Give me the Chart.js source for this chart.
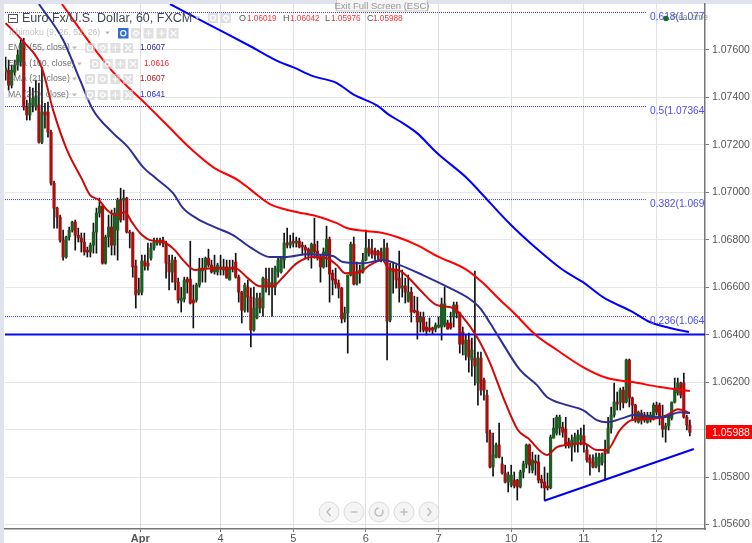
<!DOCTYPE html>
<html><head><meta charset="utf-8">
<style>html,body{margin:0;padding:0;background:#fff}canvas{display:block}</style>
<script src="https://cdn.jsdelivr.net/npm/chart.js@4"></script>
</head><body><canvas id="c" width="752" height="543"></canvas>
<script>
const opens=[1.07506,1.07514,1.07451,1.07506,1.07536,1.07548,1.07632,1.07359,1.07325,1.07367,
1.07359,1.07367,1.07211,1.07338,1.07338,1.07253,1.07038,1.06933,1.06895,1.06798,
1.06727,1.06811,1.06840,1.06874,1.06819,1.06807,1.06790,1.06756,1.06748,1.06777,
1.06832,1.06912,1.06941,1.06701,1.06811,1.06853,1.06777,1.06840,1.06967,1.06967,
1.06975,1.06832,1.06828,1.06689,1.06575,1.06579,1.06710,1.06701,1.06722,1.06765,
1.06786,1.06798,1.06798,1.06786,1.06701,1.06664,1.06714,1.06621,1.06541,1.06550,
1.06634,1.06634,1.06546,1.06546,1.06609,1.06668,1.06680,1.06722,1.06693,1.06664,
1.06664,1.06685,1.06672,1.06685,1.06630,1.06685,1.06706,1.06642,1.06579,1.06503,
1.06600,1.06558,1.06419,1.06470,1.06554,1.06512,1.06634,1.06600,1.06617,1.06600,
1.06664,1.06664,1.06714,1.06786,1.06777,1.06794,1.06786,1.06794,1.06777,1.06769,
1.06760,1.06735,1.06781,1.06752,1.06727,1.06685,1.06735,1.06802,1.06659,1.06634,
1.06617,1.06596,1.06466,1.06491,1.06651,1.06781,1.06613,1.06672,1.06664,1.06714,
1.06765,1.06756,1.06752,1.06752,1.06748,1.06714,1.06765,1.06461,1.06672,1.06672,
1.06638,1.06596,1.06605,1.06541,1.06579,1.06503,1.06499,1.06453,1.06474,1.06432,
1.06428,1.06428,1.06423,1.06432,1.06432,1.06440,1.06449,1.06449,1.06474,1.06525,
1.06491,1.06411,1.06314,1.06377,1.06293,1.06301,1.06196,1.06301,1.06209,1.06145,
1.05985,1.05842,1.05884,1.05935,1.05855,1.05817,1.05779,1.05766,1.05787,1.05787,
1.05758,1.05821,1.05855,1.05935,1.05829,1.05867,1.05863,1.05791,1.05779,1.05762,
1.05754,1.05964,1.05985,1.06006,1.06010,1.06002,1.05947,1.05926,1.05935,1.05939,
1.05956,1.05973,1.05914,1.05880,1.05863,1.05842,1.05850,1.05859,1.05914,1.05901,
1.06006,1.06061,1.06116,1.06116,1.06166,1.06116,1.06293,1.06133,1.06103,1.06031,
1.06069,1.06061,1.06031,1.06040,1.06048,1.06103,1.06103,1.06052,1.06002,1.06015,
1.06048,1.06116,1.06154,1.06196,1.06196,1.06052,1.06019];
const closes=[1.07523,1.07451,1.07514,1.07536,1.07578,1.07628,1.07359,1.07325,1.07375,1.07396,
1.07401,1.07211,1.07338,1.07325,1.07253,1.07038,1.06933,1.06895,1.06798,1.06727,
1.06811,1.06840,1.06874,1.06819,1.06807,1.06790,1.06748,1.06748,1.06777,1.06832,
1.06912,1.06941,1.06701,1.06811,1.06853,1.06777,1.06912,1.06967,1.06883,1.06975,
1.06832,1.06828,1.06685,1.06567,1.06588,1.06710,1.06689,1.06689,1.06765,1.06790,
1.06798,1.06786,1.06786,1.06701,1.06664,1.06714,1.06621,1.06546,1.06554,1.06630,
1.06621,1.06533,1.06533,1.06609,1.06680,1.06680,1.06722,1.06693,1.06664,1.06685,
1.06693,1.06676,1.06685,1.06638,1.06680,1.06676,1.06642,1.06579,1.06503,1.06609,
1.06558,1.06419,1.06512,1.06554,1.06512,1.06638,1.06600,1.06621,1.06600,1.06680,
1.06714,1.06722,1.06786,1.06777,1.06790,1.06786,1.06794,1.06769,1.06769,1.06756,
1.06735,1.06781,1.06748,1.06722,1.06685,1.06748,1.06802,1.06655,1.06630,1.06613,
1.06596,1.06466,1.06491,1.06651,1.06781,1.06613,1.06664,1.06659,1.06714,1.06765,
1.06743,1.06739,1.06735,1.06735,1.06714,1.06765,1.06457,1.06672,1.06664,1.06630,
1.06596,1.06605,1.06579,1.06579,1.06495,1.06495,1.06453,1.06474,1.06419,1.06415,
1.06419,1.06419,1.06440,1.06440,1.06529,1.06529,1.06423,1.06428,1.06525,1.06491,
1.06360,1.06360,1.06377,1.06305,1.06335,1.06267,1.06301,1.06166,1.06166,1.05985,
1.05842,1.05893,1.05935,1.05884,1.05817,1.05779,1.05808,1.05808,1.05762,1.05758,
1.05821,1.05855,1.05935,1.05850,1.05872,1.05859,1.05787,1.05775,1.05754,1.05754,
1.05968,1.06006,1.06052,1.06052,1.05989,1.05935,1.05935,1.05956,1.05968,1.05977,
1.05977,1.05935,1.05872,1.05859,1.05842,1.05884,1.05884,1.05897,1.05897,1.06006,
1.06061,1.06116,1.06107,1.06166,1.06112,1.06293,1.06133,1.06103,1.06040,1.06073,
1.06040,1.06040,1.06061,1.06061,1.06103,1.06073,1.06052,1.06002,1.06015,1.06057,
1.06116,1.06175,1.06196,1.06145,1.06052,1.06019,1.05988];
const highs=[1.07569,1.07557,1.07536,1.07557,1.07599,1.07641,1.07649,1.07388,1.07443,1.07439,
1.07472,1.07460,1.07527,1.07375,1.07380,1.07262,1.07047,1.06937,1.06904,1.06840,
1.06815,1.06853,1.06878,1.06883,1.06849,1.06828,1.06828,1.06769,1.06786,1.06870,
1.06933,1.06975,1.06946,1.06819,1.06904,1.06925,1.06933,1.06975,1.07017,1.07009,
1.06979,1.06840,1.06832,1.06714,1.06638,1.06735,1.06735,1.06786,1.06786,1.06807,
1.06807,1.06807,1.06811,1.06794,1.06735,1.06735,1.06727,1.06638,1.06600,1.06642,
1.06642,1.06794,1.06609,1.06617,1.06722,1.06722,1.06727,1.06760,1.06714,1.06735,
1.06701,1.06735,1.06718,1.06714,1.06714,1.06714,1.06743,1.06651,1.06583,1.06617,
1.06630,1.06596,1.06600,1.06575,1.06575,1.06642,1.06680,1.06680,1.06680,1.06689,
1.06722,1.06727,1.06828,1.06849,1.06819,1.06828,1.06811,1.06807,1.06790,1.06777,
1.06765,1.06786,1.06891,1.06794,1.06735,1.06765,1.06857,1.06811,1.06672,1.06680,
1.06630,1.06600,1.06516,1.06651,1.06790,1.06811,1.06706,1.06693,1.06743,1.06840,
1.06802,1.06802,1.06765,1.06756,1.06765,1.06802,1.06786,1.06701,1.06706,1.06693,
1.06752,1.06672,1.06638,1.06651,1.06600,1.06562,1.06558,1.06495,1.06495,1.06453,
1.06470,1.06432,1.06449,1.06474,1.06554,1.06600,1.06461,1.06495,1.06537,1.06537,
1.06495,1.06432,1.06398,1.06406,1.06385,1.06668,1.06326,1.06326,1.06217,1.06166,
1.05998,1.05985,1.05943,1.06027,1.05884,1.05850,1.05821,1.05850,1.05821,1.05791,
1.05829,1.05867,1.05939,1.05939,1.05905,1.05893,1.05893,1.05808,1.05842,1.05817,
1.05977,1.06048,1.06061,1.06061,1.06031,1.06052,1.05964,1.05977,1.05985,1.05998,
1.06006,1.06019,1.05935,1.05893,1.05893,1.05901,1.05901,1.05901,1.05956,1.06052,
1.06095,1.06196,1.06158,1.06175,1.06179,1.06297,1.06297,1.06137,1.06107,1.06078,
1.06082,1.06073,1.06073,1.06073,1.06112,1.06116,1.06112,1.06103,1.06027,1.06061,
1.06116,1.06217,1.06217,1.06200,1.06238,1.06061,1.06040];
const lows=[1.07472,1.07430,1.07439,1.07493,1.07514,1.07531,1.07346,1.07304,1.07304,1.07338,
1.07346,1.07207,1.07205,1.07270,1.07232,1.07030,1.06849,1.06849,1.06790,1.06714,
1.06722,1.06798,1.06832,1.06756,1.06790,1.06748,1.06735,1.06727,1.06727,1.06743,
1.06743,1.06895,1.06697,1.06697,1.06769,1.06735,1.06735,1.06714,1.06874,1.06883,
1.06828,1.06765,1.06642,1.06512,1.06567,1.06567,1.06672,1.06672,1.06714,1.06756,
1.06777,1.06777,1.06769,1.06638,1.06588,1.06621,1.06588,1.06533,1.06495,1.06537,
1.06575,1.06529,1.06428,1.06537,1.06600,1.06621,1.06621,1.06685,1.06659,1.06655,
1.06651,1.06651,1.06651,1.06638,1.06630,1.06664,1.06638,1.06537,1.06449,1.06495,
1.06495,1.06348,1.06415,1.06466,1.06491,1.06478,1.06579,1.06567,1.06478,1.06567,
1.06642,1.06659,1.06680,1.06765,1.06765,1.06769,1.06769,1.06765,1.06735,1.06722,
1.06714,1.06680,1.06722,1.06714,1.06621,1.06680,1.06685,1.06537,1.06567,1.06596,
1.06554,1.06449,1.06453,1.06322,1.06647,1.06609,1.06609,1.06617,1.06659,1.06710,
1.06731,1.06722,1.06714,1.06714,1.06706,1.06706,1.06293,1.06453,1.06575,1.06596,
1.06537,1.06558,1.06533,1.06537,1.06453,1.06491,1.06381,1.06411,1.06411,1.06398,
1.06411,1.06402,1.06411,1.06428,1.06377,1.06432,1.06423,1.06423,1.06432,1.06470,
1.06322,1.06314,1.06293,1.06242,1.06225,1.06187,1.06103,1.06145,1.06124,1.05947,
1.05838,1.05804,1.05880,1.05880,1.05812,1.05775,1.05737,1.05758,1.05754,1.05703,
1.05754,1.05796,1.05838,1.05817,1.05817,1.05808,1.05775,1.05754,1.05703,1.05745,
1.05750,1.05964,1.05977,1.05977,1.05968,1.05922,1.05922,1.05867,1.05905,1.05905,
1.05935,1.05905,1.05863,1.05808,1.05838,1.05838,1.05821,1.05850,1.05787,1.05901,
1.05985,1.06052,1.06082,1.06082,1.06091,1.06112,1.06095,1.06040,1.06031,1.06027,
1.06023,1.06031,1.06027,1.06031,1.06040,1.06061,1.06019,1.05968,1.05947,1.05998,
1.06040,1.06112,1.06145,1.06133,1.06048,1.05998,1.05973];

const ma21X=[0,5.4,12,15.7,20.3,25.2,27.9,30.8,33.5,36.1,39.4,41.7,44.4,47.7,52,55.9,58.6,62.5,68.5,75.8,80,84,88.3,91.6,96.2,101.5,106.1,109.4,112.1,117,120.3,124.6,126.3,129.6,132.9,136.9,142.5,147.8,151,155.7,160,164.3,169.2,172.5,178.8,182.1,185.4,190.7,195.3,198.6,202.9,206.9,212.8,218.4,222.1,226];
const ma21Y=[1.07712,1.07641,1.07523,1.07346,1.07177,1.07055,1.06988,1.06967,1.06925,1.06904,1.06916,1.06874,1.06828,1.06798,1.06790,1.06756,1.06714,1.06672,1.06680,1.06680,1.06638,1.06604,1.06604,1.06642,1.06701,1.06727,1.06722,1.06693,1.06659,1.06664,1.06693,1.06714,1.06680,1.06672,1.06642,1.06588,1.06524,1.06512,1.06474,1.06390,1.06280,1.06137,1.05998,1.05964,1.05893,1.05926,1.05935,1.05943,1.05914,1.05914,1.05998,1.06040,1.06044,1.06061,1.06086,1.06069];
const ema55X=[11,19,24.6,28.9,35.5,40.4,45.4,50,55.3,58.6,63.5,69.8,75.1,80.7,87.3,92.9,99.5,108.1,111.4,118,124.6,130.2,137.8,146.8,152.4,156.7,160,163.3,169.9,175.5,178.8,185.4,190.7,195.3,198.6,203.9,207.2,217.1,222.7,226];
const ema55Y=[1.07793,1.07641,1.07472,1.07346,1.07249,1.07190,1.07106,1.07055,1.06996,1.06933,1.06887,1.06849,1.06819,1.06769,1.06727,1.06727,1.06739,1.06731,1.06706,1.06701,1.06714,1.06693,1.06651,1.06596,1.06558,1.06512,1.06449,1.06381,1.06251,1.06187,1.06137,1.06103,1.06082,1.06040,1.06031,1.06048,1.06061,1.06052,1.06073,1.06069];
const ema100X=[18.6,28.9,35.5,46.7,53.3,60.9,68.5,76.7,80.7,87.3,94.9,102.8,109.4,112.7,119.4,124.6,129.3,135.9,142.5,152.4,157.7,163.3,167.6,174.8,182.1,190.7,198.6,207.2,216.1,226];
const ema100Y=[1.07793,1.07611,1.07506,1.07367,1.07283,1.07186,1.07106,1.07051,1.07013,1.06950,1.06920,1.06899,1.06870,1.06849,1.06836,1.06828,1.06811,1.06777,1.06731,1.06672,1.06617,1.06546,1.06495,1.06402,1.06335,1.06263,1.06217,1.06200,1.06179,1.06162];
const ma200X=[54.3,67.5,80.7,90.6,94.9,101.5,109.4,114.7,123,126.3,131.2,135.9,142.5,152.4,156.7,166.6,174.8,184.1,190.7,197.3,207.2,212.8,219.4,225.7];
const ma200Y=[1.07793,1.07704,1.07616,1.07548,1.07527,1.07489,1.07460,1.07413,1.07363,1.07329,1.07291,1.07249,1.07165,1.07059,1.07001,1.06866,1.06769,1.06672,1.06621,1.06558,1.06495,1.06453,1.06428,1.06411];
const trendX=[177.9,227.3];
const trendY=[1.05700,1.05918];
const supportLevel=1.0640;
const fibLevels=[1.07757,1.07361,1.06969,1.06476];
const fibLabels=["0.618(1.077","0.5(1.07364","0.382(1.069","0.236(1.064"];
const fibEnd=211.5;
const dayTicks=[44.5,71,95,119,143,167,191,215];
const dayLabels=["Apr","4","5","6","7","10","11","12"];
const priceTicks=[1.056,1.058,1.060,1.062,1.064,1.066,1.068,1.070,1.072,1.074,1.076];
const coveredPriceTick=1.060;
const lastPrice=1.05988;
const ohlcLabels=[["O","1.06019"],["H","1.06042"],["L","1.05976"],["C","1.05988"]];
const indicatorNames=["EMA (55, close)","EMA (100, close)","SMA (21, close)","MA (200, close)"];
const indicatorValues=["1.0607","1.0616","1.0607","1.0641"];

const UI='"Liberation Sans",Arial,sans-serif';
const idx=opens.map((_,i)=>i);
const pairs=(xs,ys)=>xs.map((x,i)=>({x,y:ys[i]}));
const lineDs=(xs,ys,color,w,order,extra)=>Object.assign({type:'line',data:pairs(xs,ys),borderColor:color,borderWidth:w,pointRadius:0,cubicInterpolationMode:'monotone',order,fill:false},extra||{});
const bodyColor=idx.map(i=>closes[i]>=opens[i]?'#1c5f22':'#a80e0e');

function icon(ctx,x,y,w,h,kind,bg){
  ctx.fillStyle=bg||'rgba(205,205,205,.62)';ctx.fillRect(x,y,w,h);
  ctx.strokeStyle='rgba(255,255,255,.95)';ctx.lineWidth=1.2;ctx.beginPath();
  const cx=x+w/2,cy=y+h/2;
  if(kind==0){ctx.arc(cx,cy,2.6,0,7);}
  else if(kind==1){ctx.arc(cx,cy,2.2,0,7);ctx.moveTo(cx-3.6,cy);ctx.lineTo(cx-2.4,cy);ctx.moveTo(cx+2.4,cy);ctx.lineTo(cx+3.6,cy);ctx.moveTo(cx,cy-3.6);ctx.lineTo(cx,cy-2.4);ctx.moveTo(cx,cy+2.4);ctx.lineTo(cx,cy+3.6);}
  else if(kind==2){ctx.moveTo(cx-3,cy);ctx.lineTo(cx+3,cy);ctx.moveTo(cx,cy-3);ctx.lineTo(cx,cy+3);}
  else{ctx.moveTo(cx-3,cy-3);ctx.lineTo(cx+3,cy+3);ctx.moveTo(cx+3,cy-3);ctx.lineTo(cx-3,cy+3);}
  ctx.stroke();
}
function caret(ctx,x,y){ctx.fillStyle='#bbb';ctx.beginPath();ctx.moveTo(x,y-1.5);ctx.lineTo(x+5,y-1.5);ctx.lineTo(x+2.5,y+1.5);ctx.closePath();ctx.fill();}
function txt(ctx,s,x,y,font,color,align){ctx.font=font;ctx.fillStyle=color;ctx.textAlign=align||'left';ctx.textBaseline='middle';ctx.fillText(s,x,y);}

const bands={id:'bands',beforeDraw(ch){const c=ch.ctx;c.save();c.fillStyle='#fff';c.fillRect(0,0,752,543);c.fillStyle='#e0e3eb';c.fillRect(0,0,752,4);c.fillRect(0,0,4,543);c.restore();}};
const overlay={id:'overlay',afterDraw(ch){
  const c=ch.ctx,y=ch.scales.y;c.save();
  // exit box
  c.fillStyle='#f4f4f4';c.fillRect(336,0,92,11);c.strokeStyle='#ccc';c.lineWidth=1;c.strokeRect(336.5,-1,91,12);
  txt(c,'Exit Full Screen (ESC)',382,6,'9.5px '+UI,'#999','center');
  // header
  c.strokeStyle='#555';c.lineWidth=1;c.strokeRect(8.5,14.5,9,8);c.beginPath();c.moveTo(10,18.5);c.lineTo(16,18.5);c.stroke();
  txt(c,'Euro Fx/U.S. Dollar, 60, FXCM',22,19,'12.5px '+UI,'#3f4650');
  caret(c,195,18);icon(c,208,13,10,10,0);icon(c,221,13,10,10,1);
  const xs=[[239,247],[283,290],[325,331],[367,373]];
  ohlcLabels.forEach((p,i)=>{txt(c,p[0],xs[i][0],19,'9px '+UI,'#555');txt(c,p[1],xs[i][1],19,'8.2px '+UI,'#ff3333');});
  // indicators
  txt(c,'Ichimoku (9, 26, 52, 26)',9,33,'8.7px '+UI,'rgba(170,170,170,.7)');caret(c,105,33);
  icon(c,118,28,10.5,10.5,0,'#2f6fd6');icon(c,131,28,10,10.5,1);icon(c,143.5,28,10,10.5,2);icon(c,156.5,28,10,10.5,2);icon(c,168.5,28,10,10.5,3);
  const rows=[[48,85,140,'#2a2a8c',72],[64,90,144,'#ff2233',77],[79,85,140,'#b01020',72],[95,85,140,'#1a1aee',72]];
  rows.forEach((r,i)=>{txt(c,indicatorNames[i],8,r[0],'8.7px '+UI,'rgba(85,85,85,.85)');caret(c,r[4],r[0]);
    [0,1,2,3].forEach(k=>icon(c,r[1]+k*12.7,r[0]-5,10,10,k));
    txt(c,indicatorValues[i],r[2],r[0],'8.2px '+UI,r[3]);});
  // fib labels
  const fibY=[17,111,204,321];
  fibLabels.forEach((s,i)=>{txt(c,s,650,fibY[i],'10.2px '+UI,'#4c4cf0');});
  txt(c,'Real time',672,18,'8.5px '+UI,'rgba(90,120,100,.8)');
  c.fillStyle='#1c6b34';c.beginPath();c.arc(666,18.5,2.8,0,7);c.fill();
  // price tag
  const py=y.getPixelForValue(lastPrice);
  c.fillStyle='#ff0000';c.fillRect(706,Math.round(py)-7,46,14);
  txt(c,lastPrice.toFixed(5),712,py+.5,'10.5px '+UI,'#fff');
  // nav buttons
  [329,354,379,404,429].forEach((x,i)=>{
    c.beginPath();c.arc(x,512,10,0,7);c.fillStyle='rgba(243,243,243,.95)';c.fill();c.strokeStyle='#dcdcdc';c.lineWidth=1;c.stroke();
    c.strokeStyle='#bdbdbd';c.lineWidth=1.4;c.beginPath();
    if(i==0){c.moveTo(x+1.5,508);c.lineTo(x-2,512);c.lineTo(x+1.5,516);}
    if(i==1){c.moveTo(x-3.5,512);c.lineTo(x+3.5,512);}
    if(i==2){c.arc(x,512,4,-.6,4.6);}
    if(i==3){c.moveTo(x-3.5,512);c.lineTo(x+3.5,512);c.moveTo(x,508.5);c.lineTo(x,515.5);}
    if(i==4){c.moveTo(x-1.5,508);c.lineTo(x+2,512);c.lineTo(x-1.5,516);}
    c.stroke();
  });
  c.restore();
}};

const xMin=-0.2,xMax=231;
new Chart(document.getElementById('c'),{
  type:'bar',
  data:{datasets:[
    lineDs(ema100X,ema100Y,'#ff0000',2,1),
    lineDs(ma200X,ma200Y,'#0000ff',2,1),
    lineDs(ema55X,ema55Y,'#2e2e96',2,1),
    lineDs(ma21X,ma21Y,'#cc0a0a',2,1),
    lineDs(trendX,trendY,'#0000ee',2,1),
    lineDs([xMin,xMax],[supportLevel,supportLevel],'#0a0af0',2,1),
    ...fibLevels.map(v=>lineDs([xMin,fibEnd],[v,v],'#3a3aff',1,4,{borderDash:[1,1]})),
    {data:idx.map(i=>({x:i,y:[opens[i],closes[i]]})),backgroundColor:bodyColor,barThickness:2.5,grouped:false,order:2,borderWidth:0,minBarLength:1},
    {data:idx.map(i=>({x:i,y:[lows[i],highs[i]]})),backgroundColor:'#111',barThickness:1,grouped:false,order:3,borderWidth:0},
  ]},
  options:{
    responsive:false,animation:false,events:[],
    layout:{padding:{left:5,top:4,right:0,bottom:0}},
    plugins:{legend:{display:false},tooltip:{enabled:false}},
    scales:{
      x:{type:'linear',min:xMin,max:xMax,offset:false,
        afterBuildTicks:s=>{s.ticks=dayTicks.map(v=>({value:v}));},
        afterFit:s=>{s.height=14;s.paddingLeft=0;s.paddingRight=0;},
        grid:{offset:false,color:'#e1e1e1',lineWidth:1,drawTicks:true,tickLength:3,tickColor:'#777'},
        border:{color:'#777',width:1.5},
        ticks:{autoSkip:false,maxRotation:0,padding:0,color:'#555',
          font:c=>({family:UI,size:11,weight:c.index===0?'bold':'normal'}),
          callback:v=>dayLabels[dayTicks.indexOf(v)]}
      },
      y:{type:'linear',position:'right',min:1.05581,max:1.07793,beginAtZero:false,
        afterBuildTicks:s=>{s.ticks=priceTicks.map(v=>({value:v}));},
        afterFit:s=>{s.width=47;s.paddingTop=0;s.paddingBottom=0;},
        grid:{color:'#e6e6e6',lineWidth:1,tickLength:4,tickColor:'#777'},
        border:{color:'#777',width:1.5},
        ticks:{padding:3,color:'#555',font:{family:UI,size:10.5},autoSkip:false,callback:v=>v===coveredPriceTick?'':v.toFixed(5)}
      }
    }
  },
  plugins:[bands,overlay]
});
</script></body></html>
